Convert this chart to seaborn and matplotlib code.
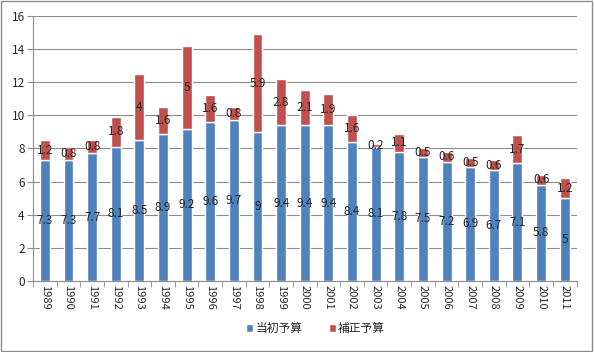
import matplotlib
matplotlib.use("Agg")
import matplotlib.pyplot as plt
import seaborn as sns
import pandas as pd

# Budget data (trillion yen)
years = [str(y) for y in range(1989, 2012)]
initial = [7.3, 7.3, 7.7, 8.1, 8.5, 8.9, 9.2, 9.6, 9.7, 9, 9.4, 9.4, 9.4,
           8.4, 8.1, 7.8, 7.5, 7.2, 6.9, 6.7, 7.1, 5.8, 5]
supplement = [1.2, 0.8, 0.8, 1.8, 4, 1.6, 5, 1.6, 0.8, 5.9, 2.8, 2.1, 1.9,
              1.6, 0.2, 1.1, 0.5, 0.6, 0.5, 0.6, 1.7, 0.6, 1.2]

df = pd.DataFrame({"year": years, "initial": initial, "supplement": supplement})

sns.set_style("white")
plt.rcParams['font.family'] = ['Noto Sans CJK JP', 'DejaVu Sans']

fig = plt.figure(figsize=(5.94, 3.52), dpi=100)
ax = fig.add_axes([0.0556, 0.2017, 0.915, 0.753])

blue = "#4F81BD"
red = "#C0504D"

sns.barplot(data=df, x="year", y="initial", color=blue, width=0.42,
            saturation=1, ax=ax, label="当初予算")
sns.barplot(data=df, x="year", y="supplement", color=red, width=0.42,
            saturation=1, ax=ax, bottom=df["initial"], label="補正予算")

# value labels at segment centres
for i, (b, s) in enumerate(zip(initial, supplement)):
    ax.text(i, b / 2, f"{b:g}", ha="center", va="center", fontsize=8.5)
    ax.text(i, b + s / 2, f"{s:g}", ha="center", va="center", fontsize=8.5)

ax.set_ylim(0, 16)
ax.set_yticks(range(0, 17, 2))
ax.set_xlim(-0.5, len(years) - 0.5)
ax.set_xlabel("")
ax.set_ylabel("")
ax.yaxis.grid(True, color="#8c8c8c", linewidth=0.8)
ax.set_axisbelow(True)
for side in ["top", "right"]:
    ax.spines[side].set_visible(False)
for side in ["left", "bottom"]:
    ax.spines[side].set_color("#8c8c8c")

ax.tick_params(axis="y", labelsize=8.5, length=4, color="#8c8c8c", left=True, pad=2)
ax.tick_params(axis="x", labelsize=8, rotation=270, length=0, pad=3)
ax.set_xticks([i - 0.5 for i in range(len(years) + 1)], minor=True)
ax.tick_params(axis="x", which="minor", length=4, color="#8c8c8c", bottom=True)

leg = ax.legend(loc="center", bbox_to_anchor=(0.52, -0.18), ncol=2, frameon=False,
                fontsize=8.5, handlelength=0.6, handleheight=0.6,
                handletextpad=0.2, columnspacing=2.2)

fig.patches.append(plt.Rectangle((0.002, 0.003), 0.995, 0.993, transform=fig.transFigure,
                                 fill=False, edgecolor="#8c8c8c", linewidth=1))

fig.savefig("out.png", dpi=100)
